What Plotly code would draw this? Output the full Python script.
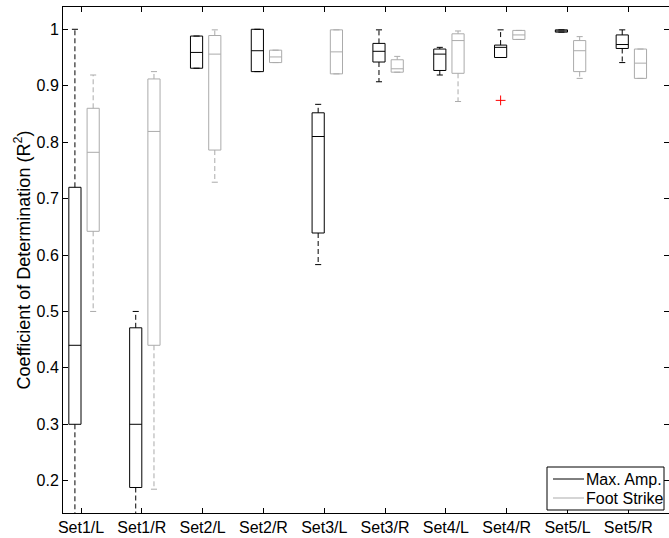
import plotly.graph_objects as go

categories = ["Set1/L", "Set1/R", "Set2/L", "Set2/R", "Set3/L",
              "Set3/R", "Set4/L", "Set4/R", "Set5/L", "Set5/R"]

# Max. Amp. (black) box statistics
max_amp_upper = [1.000, 0.500, 0.988, 1.000, 0.867, 0.999, 0.968, 0.999, 0.999, 0.999]
max_amp_q3 = [0.720, 0.471, 0.988, 1.000, 0.852, 0.975, 0.965, 0.972, 0.999, 0.990]
max_amp_median = [0.440, 0.300, 0.959, 0.962, 0.810, 0.961, 0.956, 0.968, 0.997, 0.973]
max_amp_q1 = [0.300, 0.188, 0.931, 0.925, 0.639, 0.942, 0.927, 0.950, 0.995, 0.966]
max_amp_lower = [0.120, 0.120, 0.931, 0.925, 0.583, 0.907, 0.919, 0.950, 0.995, 0.941]
max_amp_outlier_cat = ["Set4/R"]
max_amp_outlier_val = [0.874]

# Foot Strike (gray) box statistics
foot_upper = [0.919, 0.925, 0.999, 0.963, 0.999, 0.952, 0.997, 0.998, 0.987, 0.965]
foot_q3 = [0.860, 0.912, 0.989, 0.963, 0.999, 0.946, 0.992, 0.998, 0.980, 0.965]
foot_median = [0.782, 0.819, 0.956, 0.951, 0.960, 0.930, 0.980, 0.990, 0.962, 0.940]
foot_q1 = [0.642, 0.440, 0.786, 0.941, 0.921, 0.924, 0.922, 0.982, 0.925, 0.913]
foot_lower = [0.500, 0.185, 0.729, 0.941, 0.921, 0.924, 0.872, 0.982, 0.913, 0.913]

series_names = ["Max. Amp.", "Foot Strike"]

y_ticks = [0.2, 0.3, 0.4, 0.5, 0.6, 0.7, 0.8, 0.9, 1.0]
y_tick_labels = ["0.2", "0.3", "0.4", "0.5", "0.6", "0.7", "0.8", "0.9", "1"]

BLACK = "#000000"
GRAY = "#ababab"
FONT = "Liberation Sans, Arial, Helvetica, sans-serif"
BOX_W = 0.2
CAP_HW = 0.05

W, H = 669, 538
ML, MR, MT, MB = 63, 0, 7, 25
PW, PH = W - ML - MR, H - MT - MB


def px_x(px):
    return (px - ML) / PW


def px_y(py):
    return (H - MB - py) / PH


idx = list(range(1, len(categories) + 1))
fig = go.Figure()


def add_series(offset, q1, med, q3, lo, hi, color, name):
    pos = [i + offset for i in idx]
    fig.add_trace(go.Box(
        x=pos, q1=q1, median=med, q3=q3, lowerfence=q1, upperfence=q3,
        width=BOX_W, whiskerwidth=0, boxpoints=False,
        fillcolor="rgba(255,255,255,0)", line=dict(color=color, width=1),
        showlegend=False, hoverinfo="skip", name=name,
    ))
    wx, wy, cx, cy = [], [], [], []
    for p, a, b, c, d in zip(pos, q1, q3, lo, hi):
        wx += [p, p, None, p, p, None]
        wy += [b, d, None, a, c, None]
        cx += [p - CAP_HW, p + CAP_HW, None, p - CAP_HW, p + CAP_HW, None]
        cy += [d, d, None, c, c, None]
    fig.add_trace(go.Scatter(x=wx, y=wy, mode="lines",
                             line=dict(color=color, width=1, dash="5px,3px"),
                             showlegend=False, hoverinfo="skip"))
    fig.add_trace(go.Scatter(x=cx, y=cy, mode="lines",
                             line=dict(color=color, width=1),
                             showlegend=False, hoverinfo="skip"))


add_series(-0.1, max_amp_q1, max_amp_median, max_amp_q3, max_amp_lower, max_amp_upper, BLACK, series_names[0])
add_series(0.2, foot_q1, foot_median, foot_q3, foot_lower, foot_upper, GRAY, series_names[1])

fig.add_trace(go.Scatter(
    x=[categories.index(c) + 1 - 0.1 for c in max_amp_outlier_cat], y=max_amp_outlier_val,
    mode="markers", marker=dict(symbol="cross-thin", size=7, line=dict(color="red", width=1)),
    showlegend=False, hoverinfo="skip"))

# manual legend (box, line samples, labels)
shapes = [dict(type="rect", xref="paper", yref="paper",
               x0=px_x(547), x1=px_x(664), y0=px_y(510), y1=px_y(467),
               line=dict(color="black", width=1), fillcolor="white", layer="above")]
annotations = []
for k, (nm, col) in enumerate(zip(series_names, [BLACK, GRAY])):
    yy = 479 + 19 * k
    shapes.append(dict(type="line", xref="paper", yref="paper",
                       x0=px_x(553), x1=px_x(584), y0=px_y(yy), y1=px_y(yy),
                       line=dict(color=col, width=1), layer="above"))
    annotations.append(dict(xref="paper", yref="paper", x=px_x(584), y=px_y(yy),
                            xanchor="left", yanchor="middle", text=nm, showarrow=False,
                            font=dict(size=16, family=FONT, color="black")))

fig.update_layout(
    width=W, height=H,
    margin=dict(l=ML, r=MR, t=MT, b=MB),
    plot_bgcolor="white", paper_bgcolor="white",
    font=dict(family=FONT, size=15, color="black"),
    boxmode="overlay", showlegend=False,
    shapes=shapes, annotations=annotations,
    xaxis=dict(range=[0.704, 10.669], tickmode="array", tickvals=idx, ticktext=categories,
               ticks="inside", ticklen=5, tickcolor="black", showline=True, linecolor="black",
               linewidth=1, mirror="ticks", showgrid=False, zeroline=False,
               tickfont=dict(size=16, family=FONT, color="black")),
    yaxis=dict(range=[0.1428, 1.0395], tickmode="array", tickvals=y_ticks, ticktext=y_tick_labels,
               ticks="inside", ticklen=5, tickcolor="black", showline=True, linecolor="black",
               linewidth=1, mirror="ticks", showgrid=False, zeroline=False,
               tickfont=dict(size=16, family=FONT, color="black"),
               title=dict(text="Coefficient of Determination (R<sup>2</sup>)", standoff=1)),
)

fig.write_html("out.html")
